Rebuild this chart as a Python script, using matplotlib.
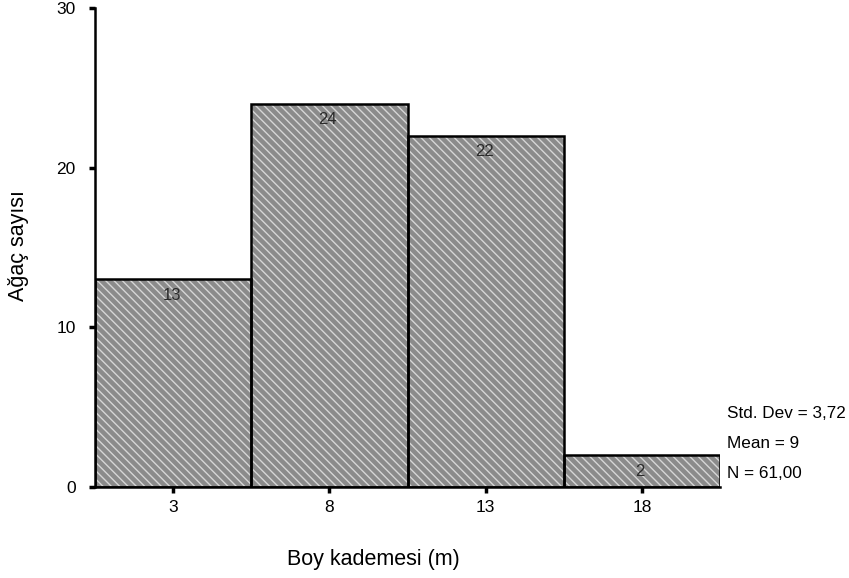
import matplotlib
matplotlib.use("Agg")
import matplotlib.pyplot as plt

plt.rcParams['font.family'] = ['Liberation Sans', 'DejaVu Sans']

# Height classes (bin centres, m) and tree counts
classes = [3, 8, 13, 18]
counts = [13, 24, 22, 2]
bin_width = 5
y_ticks = [0, 10, 20, 30]
stats_lines = ["Std. Dev = 3,72", "Mean = 9", "N = 61,00"]

fig = plt.figure(figsize=(8.49, 5.78), dpi=100)
ax = fig.add_axes([95 / 849, 1 - 487 / 578, 625 / 849, 479 / 578])

# Textured fill: grey face with light diagonal hatch, then black outlines on top
plt.rcParams['hatch.linewidth'] = 1.0
ax.bar(classes, counts, width=bin_width, color='#8b8b8b', edgecolor='#d6d6d6',
       hatch='\\\\\\\\', linewidth=0, zorder=2)
ax.bar(classes, counts, width=bin_width, fill=False, edgecolor='black',
       linewidth=1.8, zorder=3)

for x, c in zip(classes, counts):
    ax.text(x - 0.05, c - 1.0, str(c), ha='center', va='center', fontsize=12,
            color='#2a2a2a', zorder=4)

ax.set_xlim(classes[0] - bin_width / 2, classes[-1] + bin_width / 2)
ax.set_ylim(0, 30)
ax.set_xticks(classes)
ax.set_xticklabels([str(c) for c in classes])
ax.set_yticks(y_ticks)

for side in ('top', 'right'):
    ax.spines[side].set_visible(False)
ax.spines['left'].set_linewidth(1.8)
ax.spines['bottom'].set_linewidth(1.8)
ax.tick_params(axis='both', direction='out', length=4, width=2.5,
               labelsize=12.5)
ax.tick_params(axis='y', pad=10)
ax.tick_params(axis='x', pad=5)

ax.set_xlabel("Boy kademesi (m)", fontsize=15.5)
ax.set_ylabel("Ağaç sayısı", fontsize=15.5)
ax.xaxis.set_label_coords(0.446, -0.13)
ax.yaxis.set_label_coords(-0.105, 0.505)

for i, line in enumerate(stats_lines):
    fig.text(727 / 849, 1 - (413 + i * 30.5) / 578, line, fontsize=12.3,
             ha='left', va='center')

fig.savefig("out.png", dpi=100)
